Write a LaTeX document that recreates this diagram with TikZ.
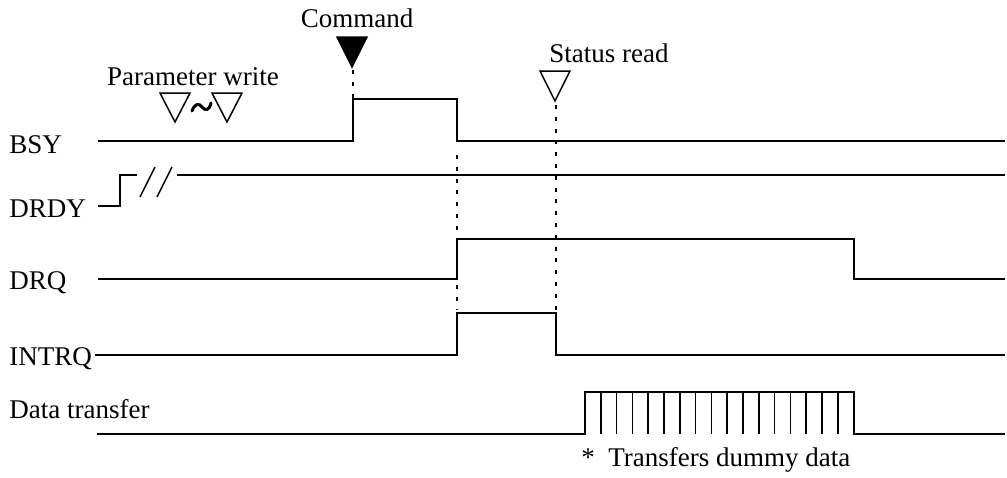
\documentclass[tikz,border=0pt]{standalone}
\usepackage{fontspec}
\setmainfont{Liberation Serif}
\begin{document}
\begin{tikzpicture}[
  x=0.5pt, y=-0.5pt,
  font=\fontsize{13.5}{16}\selectfont,
  sig/.style={line width=0.75pt},
  guide/.style={line width=1.3pt, dash pattern=on 2pt off 3.9pt},
  tri/.style={line width=0.75pt, line join=miter},
  lbl/.style={anchor=base west, inner sep=0pt},
  ev/.style={anchor=base, inner sep=0pt}
]
\useasboundingbox (0,0) rectangle (1007,477);

% ================= signal names =================
\node[lbl] (bsy)   at (9,153) {BSY};
\node[lbl] (drdy)  at (9,217) {DRDY};
\node[lbl] (drq)   at (9,289) {DRQ};
\node[lbl] (intrq) at (9,365) {INTRQ};
\node[lbl] (data)  at (9,418) {Data transfer};

% ================= host events =================
\node[ev] (parw) at (193,85) {Parameter write};
\draw[tri] (160,93) -- (190,93) -- (175,122) -- cycle;
\draw[tri] (212,93) -- (242,93) -- (227,122) -- cycle;
% range marker between the two writes
\draw[line width=1.5pt, line cap=round]
  (192,111) .. controls (195,103) and (199,103) .. (202,107)
  .. controls (205,111) and (209,111) .. (211,103);

\node[ev] (cmd) at (357,27) {Command};
\draw[tri, fill=black] (337,37) -- (367,37) -- (352,67) -- cycle;
\coordinate (cmdtip) at (353,70);

\node[ev] (stat) at (609,62) {Status read};
\draw[tri] (540,71) -- (570,71) -- (555,101) -- cycle;
\coordinate (stattip) at (556,105);

% ================= waveforms =================
\draw[sig] (98,141) -- (353,141) -- (353,99) coordinate (bsyhi)
  -- (457,99) -- (457,141) -- (1005,141);
\draw[sig] (98,206) -- (120,206) -- (120,175) -- (137,175);
\draw[sig] (140,197) -- (155,167);
\draw[sig] (157,197) -- (172,167);
\draw[sig] (177,175) -- (1005,175);
\draw[line width=1.1pt] (935,175) -- (1005,175);
\draw[sig] (98,279) -- (457,279) -- (457,239) -- (854,239)
  -- (854,279) -- (1005,279);
\draw[sig] (95,355) -- (457,355) -- (457,313) -- (556,313)
  -- (556,355) -- (1005,355);
\draw[sig] (97,434) -- (585,434) -- (585,392) -- (854,392)
  -- (854,434) -- (1005,434);
\foreach \i in {1,...,16}
  \draw[sig] (585+15.8*\i,392) -- (585+15.8*\i,434);

% ================= timing guides =================
\draw[guide] (cmdtip) -- (bsyhi);
\draw[guide] (457,155) -- (457,236);
\draw[guide] (457,285) -- (457,309);
\draw[guide] (stattip) -- (556,310);

\node[lbl] (note) at (581,466) {*\ \ Transfers dummy data};
\end{tikzpicture}
\end{document}
